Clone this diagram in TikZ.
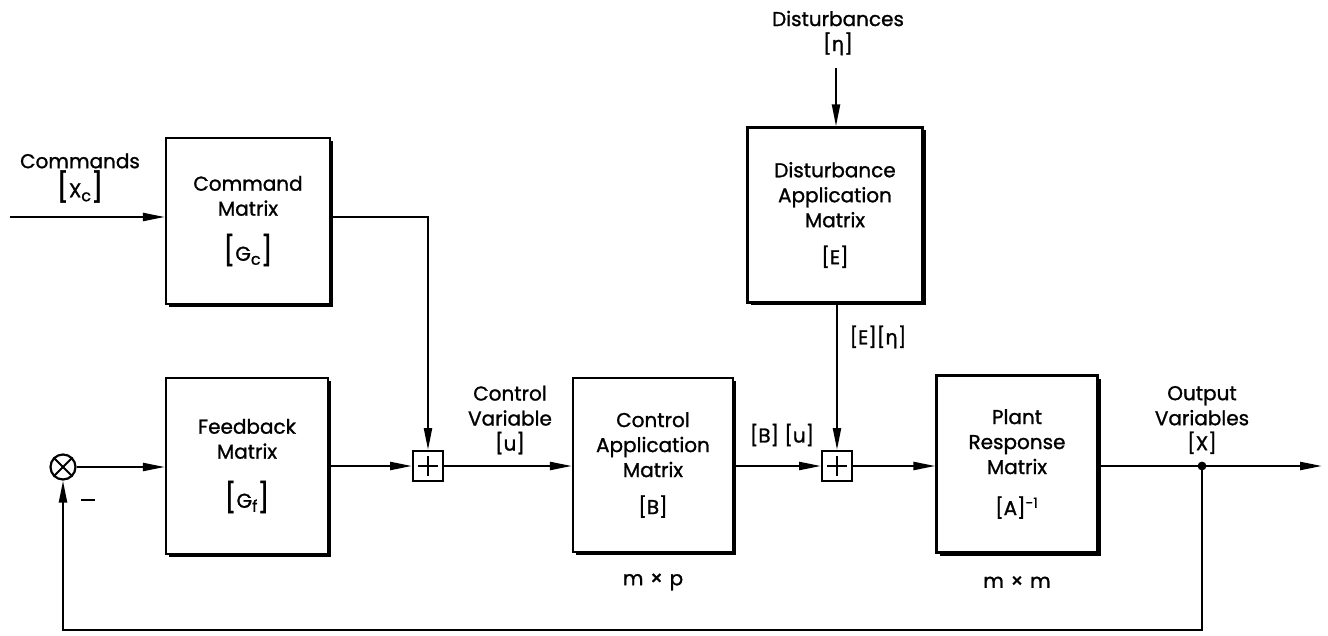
\documentclass[tikz,border=0pt]{standalone}
\usepackage{fontspec}
\setmainfont{Poppins}[FakeBold=1.2]
\newfontfamily\grk{DejaVu Sans}[FakeBold=1.2]
\usetikzlibrary{arrows.meta,shadows}
\newcommand\bigbr[1]{{\Large[}#1{\Large]}}
\newcommand\sbs[1]{\raisebox{-2pt}{\fontsize{8}{8}\selectfont #1}}
\begin{document}
\begin{tikzpicture}[x=0.5pt,y=-0.5pt,
  font=\fontsize{10}{12.5}\selectfont,
  every node/.style={inner sep=0pt},
  blk/.style={draw,line width=1.1pt,fill=white,align=center,
    drop shadow={shadow xshift=1.5pt,shadow yshift=-1.5pt,opacity=1,fill=black}},
  sumj/.style={draw,line width=1pt,fill=white,minimum size=15pt},
  lab/.style={align=center},
  arr/.style={line width=1.1pt,-{Triangle[length=11pt,width=4pt]}},
  ln/.style={line width=1.1pt}]
\useasboundingbox (0,0) rectangle (1328,636);
% blocks
\node[blk,minimum width=82pt,minimum height=83pt] (cmd) at (248,221) {Command\\Matrix\\[8pt]\bigbr{G\sbs{c}}};
\node[blk,minimum width=81pt,minimum height=88pt] (fb) at (247,466) {Feedback\\Matrix\\[10pt]\bigbr{G\sbs{f}}};
\node[blk,minimum width=80pt,minimum height=87pt] (ca) at (653,465) {Control\\Application\\Matrix\\[6pt][B]};
\node[blk,minimum width=80.5pt,minimum height=88.5pt] (pl) at (1017,464) {Plant\\Response\\Matrix\\[8pt][A]\textsuperscript{-1}};
\node[blk,minimum width=87.5pt,minimum height=87.5pt] (dist) at (835,215) {Disturbance\\Application\\Matrix\\[6pt][E]};
% junctions
\node[sumj] (sa) at (428,466) {};
\node[sumj] (sb) at (837,466) {};
\draw[line width=0.9pt] ([yshift=-3pt]sa.north) -- ([yshift=3pt]sa.south);
\draw[line width=0.9pt] ([xshift=3pt]sa.west) -- ([xshift=-3pt]sa.east);
\draw[line width=0.9pt] ([yshift=-3pt]sb.north) -- ([yshift=3pt]sb.south);
\draw[line width=0.9pt] ([xshift=3pt]sb.west) -- ([xshift=-3pt]sb.east);
\node[draw,circle,line width=1.1pt,minimum size=12.5pt] (mul) at (63,467) {};
\draw[line width=1pt] (mul.45) -- (mul.225);
\draw[line width=1pt] (mul.135) -- (mul.315);
% labels
\node[lab] (lcmd) at (80,178) {Commands\\\bigbr{X\sbs{c}}};
\node[lab] (ldist) at (838,33) {Disturbances\\{}[{\grk η}]};
\node[lab] (lcv) at (510,420) {Control\\Variable\\{}[u]};
\node[lab] (lout) at (1202,420) {Output\\Variables\\{}[X]};
\node[lab] (lbu) at (782,435) {[B] [u]};
\node[lab] (leta) at (878,337) {[E][{\grk η}]};
\node[lab] (lmp) at (653,582) {m\,\,×\,\,p};
\node[lab] (lmm) at (1017,582) {m\,\,×\,\,m};
\node[lab] (lminus) at (88,500) {\rule{7pt}{1.3pt}};
% coordinates
\coordinate (cin) at (10,217);
\coordinate (cturn) at (428,217);
\coordinate (dtop) at (836,68);
\coordinate (tap) at (1202,466);
\coordinate (oend) at (1322,466);
\coordinate (fbl) at (63,630);
% connectors
\draw[arr] (cin) -- (cin -| cmd.west);
\draw[arr] (cmd.east |- cturn) -- (cturn) -- (sa.north);
\draw[arr] (mul.east) -- (fb.west |- mul);
\draw[arr] (fb.east |- sa) -- (sa.west);
\draw[arr] (sa.east) -- (ca.west |- sa);
\draw[arr] (ca.east |- sb) -- (sb.west);
\draw[arr] (dtop) -- (dtop |- dist.north);
\draw[arr] (dist.south -| sb) -- (sb.north);
\draw[arr] (sb.east) -- (pl.west |- sb);
\draw[arr] (pl.east |- tap) -- (oend);
\fill (tap) circle (2.2pt);
\draw[arr] (tap) -- (tap |- fbl) -- (fbl) -- (mul.south);
\end{tikzpicture}
\end{document}
